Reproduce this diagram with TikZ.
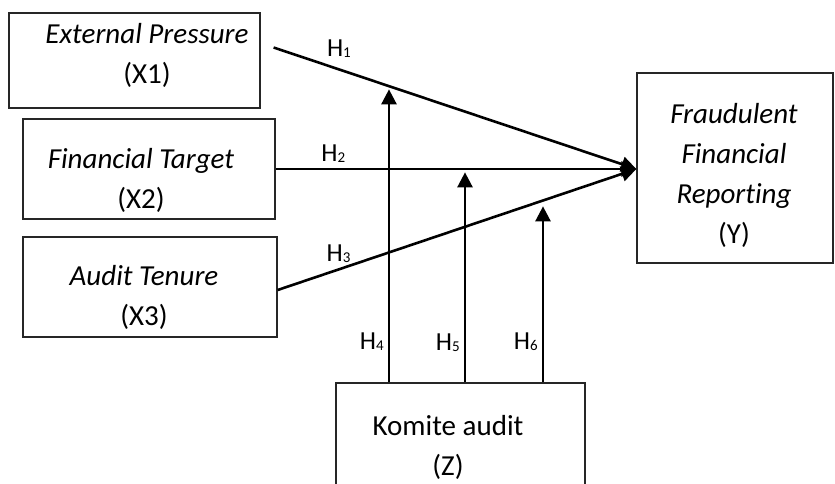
\documentclass[tikz,border=0pt]{standalone}
\usepackage{fontspec}
\setmainfont{Carlito}[Ligatures=NoCommon]
\usetikzlibrary{arrows.meta}

% hypothesis label with a small, barely lowered index
\newcommand{\hyplab}[1]{H\raisebox{-1pt}{\fontsize{15}{15}\selectfont #1}}

\begin{document}
\begin{tikzpicture}[x=1pt, y=-1pt,
    box/.style={draw=black!85, line width=1.3pt, inner sep=0pt},
    txt/.style={align=center, inner sep=0pt, font=\fontsize{29}{40}\selectfont},
    arr/.style={line width=2.6pt, -{Triangle[length=15pt,width=15pt]}},
    hlab/.style={inner sep=1pt, font=\fontsize{26}{26}\selectfont}]
    \clip (0,0) rectangle (835,483);

    % variables (text set a little off centre, as in the boxes)
    \node [box, minimum width=251pt, minimum height=95pt,
        label={[txt, xshift=12.5pt, yshift=5.5pt]center:{\textit{External Pressure}\\(X1)}}](x1) at (134.5,60.5) {};
    \node [box, minimum width=252pt, minimum height=100pt,
        label={[txt, xshift=-8pt, yshift=-11pt]center:{\textit{Financial Target}\\(X2)}}](x2) at (149,169) {};
    \node [box, minimum width=254pt, minimum height=100pt,
        label={[txt, xshift=-6pt, yshift=-10pt]center:{\textit{Audit Tenure}\\(X3)}}](x3) at (150,287) {};
    \node [box, minimum width=196pt, minimum height=190pt,
        label={[txt, xshift=-1pt, yshift=-7pt]center:{\textit{Fraudulent}\\\textit{Financial}\\\textit{Reporting}\\(Y)}}](y) at (735,168) {};
    \node [box, minimum width=249pt, minimum height=124pt,
        label={[txt, xshift=-12.5pt, yshift=-2pt]center:{Komite audit\\(Z)}}](z) at (460.5,445) {};

    \coordinate (yin) at ([yshift=-1pt]y.west);

    % direct paths
    \draw[arr] ([shift={(13,-13)}]x1.east) -- node[hlab, pos=0.18, above=10pt] (h1) {\hyplab{1}} (yin);
    \draw[arr] (x2.east) -- node[hlab, pos=0.16, above=4pt] (h2) {\hyplab{2}} (yin);
    \draw[arr] ([yshift=-3pt]x3.east) -- node[hlab, pos=0.17, above=5pt] (h3) {\hyplab{3}} (yin);

    % moderating paths
    \draw[arr] ([xshift=-71.5pt]z.north) -- node[hlab, pos=0.14, left=3pt] (h4) {\hyplab{4}} ++(0,-293);
    \draw[arr] ([xshift=4.5pt]z.north) -- node[hlab, pos=0.19, left=3pt] (h5) {\hyplab{5}} ++(0,-210);
    \draw[arr] ([xshift=82.5pt]z.north) -- node[hlab, pos=0.23, left=3pt] (h6) {\hyplab{6}} ++(0,-176);
\end{tikzpicture}
\end{document}
